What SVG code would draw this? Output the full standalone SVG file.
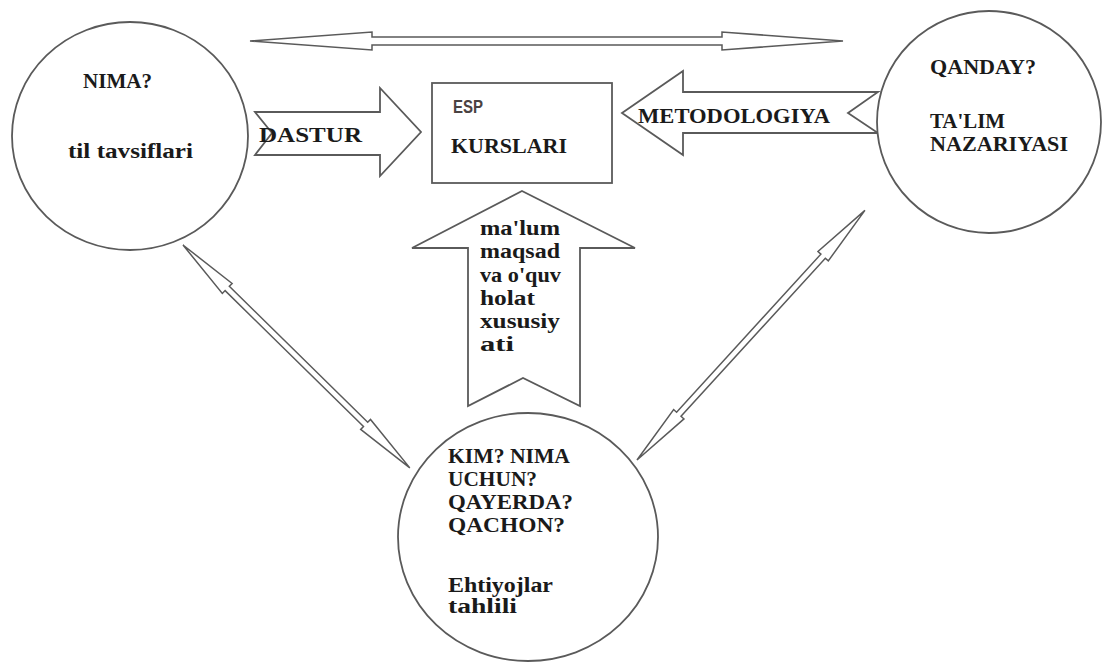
<svg xmlns="http://www.w3.org/2000/svg" width="1102" height="663" viewBox="0 0 1102 663">
<style>
.shape{fill:#fff;stroke:#5a5a5a;stroke-width:1.8;stroke-linejoin:miter}
.conn{fill:#fff;stroke:#5a5a5a;stroke-width:1.5;stroke-linejoin:miter}
.t{font-family:"Liberation Serif","Times New Roman",serif;font-weight:bold;font-size:20px;fill:#1a1a1a}
.s{font-family:"Liberation Sans",Arial,sans-serif;font-weight:bold;font-size:18px;fill:#4a4242}
</style>
<rect width="1102" height="663" fill="#fff"/>
<g id="connectors">
  <path id="top-arrow" class="conn" d="M250,41 L372,32 L372,37 L722,37 L722,32 L843,41 L722,50 L722,45 L372,45 L372,50 Z"/>
  <path id="left-diag" class="conn" transform="translate(183,245) rotate(44.5)" d="M0,0 L62,-7 L62,-3 L256,-3 L256,-7 L318,0 L256,7 L256,3 L62,3 L62,7 Z"/>
  <path id="right-diag" class="conn" transform="translate(637,460) rotate(-47.6)" d="M0,0 L62,-7 L62,-3 L276,-3 L276,-7 L338,0 L276,7 L276,3 L62,3 L62,7 Z"/>
  <g id="dastur-arrow">
    <path class="shape" d="M255,112 L380,112 L380,88 L421,132 L380,176 L380,155 L255,155 L272,133 Z"/>
    <text class="t" x="259" y="142" textLength="103" lengthAdjust="spacingAndGlyphs">DASTUR</text>
  </g>
  <g id="metodologiya-arrow">
    <path class="shape" d="M622,113 L683,71 L683,92 L878,92 L848,113 L878,133 L683,133 L683,155 Z"/>
    <text class="t" x="638" y="123" textLength="192" lengthAdjust="spacingAndGlyphs">METODOLOGIYA</text>
  </g>
  <g id="maqsad-arrow">
    <path class="shape" d="M522,191 L635,248 L580,248 L580,406 L523,378 L468,406 L468,248 L412,248 Z"/>
    <text class="t" x="480" y="235" textLength="80" lengthAdjust="spacingAndGlyphs">ma'lum</text>
    <text class="t" x="480" y="258" textLength="80" lengthAdjust="spacingAndGlyphs">maqsad</text>
    <text class="t" x="480" y="282" textLength="81" lengthAdjust="spacingAndGlyphs">va o'quv</text>
    <text class="t" x="480" y="305" textLength="55" lengthAdjust="spacingAndGlyphs">holat</text>
    <text class="t" x="480" y="328" textLength="80" lengthAdjust="spacingAndGlyphs">xususiy</text>
    <text class="t" x="480" y="351" textLength="34" lengthAdjust="spacingAndGlyphs">ati</text>
  </g>
</g>
<g id="node-nima">
  <ellipse class="shape" cx="130" cy="136" rx="118" ry="114"/>
  <text class="t" x="83" y="88" textLength="69" lengthAdjust="spacingAndGlyphs">NIMA?</text>
  <text class="t" x="68" y="158" textLength="125" lengthAdjust="spacingAndGlyphs">til tavsiflari</text>
</g>
<g id="node-esp">
  <rect class="shape" x="432" y="83" width="180" height="100"/>
  <text class="s" x="453" y="113" textLength="30" lengthAdjust="spacingAndGlyphs">ESP</text>
  <text class="t" x="451" y="153" textLength="116" lengthAdjust="spacingAndGlyphs">KURSLARI</text>
</g>
<g id="node-qanday">
  <ellipse class="shape" cx="989" cy="122" rx="112" ry="111"/>
  <text class="t" x="930" y="74" textLength="106" lengthAdjust="spacingAndGlyphs">QANDAY?</text>
  <text class="t" x="930" y="128" textLength="75" lengthAdjust="spacingAndGlyphs">TA'LIM</text>
  <text class="t" x="930" y="151" textLength="138" lengthAdjust="spacingAndGlyphs">NAZARIYASI</text>
</g>
<g id="node-kim">
  <ellipse class="shape" cx="528" cy="537" rx="130" ry="124"/>
  <text class="t" x="448" y="463" textLength="122" lengthAdjust="spacingAndGlyphs">KIM? NIMA</text>
  <text class="t" x="448" y="486" textLength="89" lengthAdjust="spacingAndGlyphs">UCHUN?</text>
  <text class="t" x="448" y="509" textLength="125" lengthAdjust="spacingAndGlyphs">QAYERDA?</text>
  <text class="t" x="448" y="532" textLength="117" lengthAdjust="spacingAndGlyphs">QACHON?</text>
  <text class="t" x="448" y="592" textLength="105" lengthAdjust="spacingAndGlyphs">Ehtiyojlar</text>
  <text class="t" x="448" y="613" textLength="69" lengthAdjust="spacingAndGlyphs">tahlili</text>
</g>
</svg>
